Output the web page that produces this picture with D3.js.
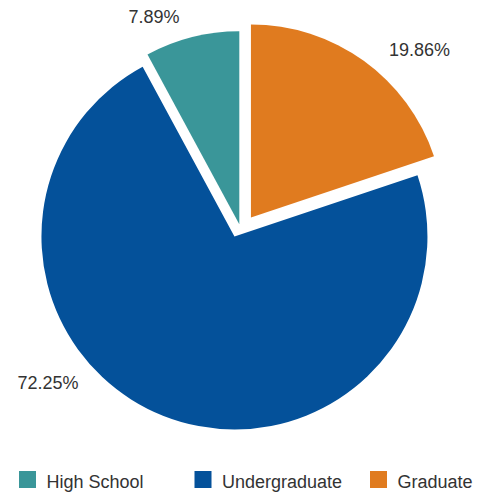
<!DOCTYPE html>
<html>
<head>
<meta charset="utf-8">
<script src="https://cdn.jsdelivr.net/npm/d3@7"></script>
<style>
  html, body { margin: 0; padding: 0; background: #fff; }
  svg { display: block; }
  text { font-family: "Liberation Sans", Arial, sans-serif; }
</style>
</head>
<body>
<svg id="chart" width="485" height="492"></svg>
<script>
// ---- data ----
const categories = ["High School", "Undergraduate", "Graduate"];
const values = [7.89, 72.25, 19.86];
const colors = ["#3A9699", "#04519A", "#E07B1F"];

// ---- style / layout ----
const W = 485, H = 492;
const center = { x: 239.3, y: 224.2 };
const radius = 193;
// explode: distance (px) and direction (deg clockwise from 12 o'clock; null = slice mid-angle)
const explode = { "High School": [0, null], "Undergraduate": [13.2, null], "Graduate": [13.5, 59.8] };
// label placement: distance from slice centre and angular shift from the slice mid-angle
const labelPos = { "High School": [224, -8.2], "Undergraduate": [237, 30.3], "Graduate": [238, 9.35] };

const svg = d3.select("#chart");
const data = categories.map((c, i) => ({ cat: c, value: values[i], color: colors[i] }));

// pie drawn clockwise from 12 o'clock: Graduate, Undergraduate, High School
const pie = d3.pie().sort(null).value(d => d.value);
const arcs = pie(data.slice().reverse());
const arc = d3.arc().innerRadius(0).outerRadius(radius);

const rad = a => a * Math.PI / 180;
function offsetOf(d) {
  const e = explode[d.data.cat];
  const ang = e[1] === null ? (d.startAngle + d.endAngle) / 2 : rad(e[1]);
  return [e[0] * Math.sin(ang), -e[0] * Math.cos(ang)];
}

const g = svg.append("g").attr("transform", `translate(${center.x},${center.y})`);

const slices = g.selectAll("g.slice").data(arcs).join("g")
  .attr("class", "slice")
  .attr("transform", d => { const o = offsetOf(d); return `translate(${o[0]},${o[1]})`; });

slices.append("path")
  .attr("d", arc)
  .attr("fill", d => d.data.color);

slices.append("text")
  .attr("x", d => { const lp = labelPos[d.data.cat]; const a = (d.startAngle + d.endAngle) / 2 + rad(lp[1]); return lp[0] * Math.sin(a); })
  .attr("y", d => { const lp = labelPos[d.data.cat]; const a = (d.startAngle + d.endAngle) / 2 + rad(lp[1]); return -lp[0] * Math.cos(a); })
  .attr("dy", "0.35em")
  .attr("text-anchor", "middle")
  .attr("font-size", 18)
  .attr("fill", "#333")
  .text(d => d3.format(".2f")(d.data.value) + "%");

// ---- legend ----
const legendX = d3.scaleBand().domain(categories).range([19, 19 + 3 * 175.5]);
const legendY = 471;
const lg = svg.append("g").selectAll("g").data(data).join("g")
  .attr("transform", d => `translate(${legendX(d.cat)},${legendY})`);
lg.append("rect").attr("width", 17).attr("height", 17).attr("fill", d => d.color);
lg.append("text")
  .attr("x", 27.5).attr("y", 16.7)
  .attr("font-size", 18)
  .attr("fill", "#333")
  .text(d => d.cat);
</script>
</body>
</html>
